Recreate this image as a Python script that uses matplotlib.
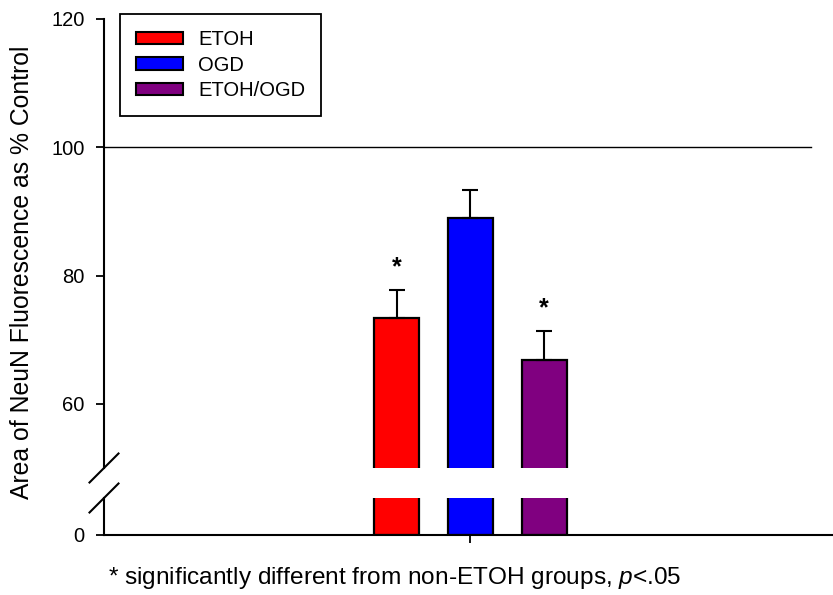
import matplotlib
matplotlib.use("Agg")
import matplotlib.pyplot as plt
from matplotlib.lines import Line2D
from matplotlib.patches import Patch

plt.rcParams['font.family'] = ['Liberation Sans', 'DejaVu Sans']
plt.rcParams['mathtext.fontset'] = 'custom'
plt.rcParams['mathtext.rm'] = 'Liberation Sans'
plt.rcParams['mathtext.it'] = 'Liberation Sans:italic'

# data
groups = ['ETOH', 'OGD', 'ETOH/OGD']
means = [73.4, 88.9, 66.8]
sems = [4.3, 4.4, 4.5]
colors = ['#ff0000', '#0000ff', '#800080']
significant = [True, False, True]
ref_level = 100
yticks_top = [60, 80, 100, 120]
yticks_bottom = [0]

W, H = 833, 595
fig = plt.figure(figsize=(W / 100, H / 100), dpi=100)

# axes positions in pixels
ax_left, ax_right = 104, 833
top_y0, top_y1 = 19, 468
bot_y0, bot_y1 = 498, 535
px_per_unit = (top_y1 - top_y0) / 70.0

ax_top = fig.add_axes([ax_left / W, 1 - top_y1 / H, (ax_right - ax_left) / W, (top_y1 - top_y0) / H])
ax_bot = fig.add_axes([ax_left / W, 1 - bot_y1 / H, (ax_right - ax_left) / W, (bot_y1 - bot_y0) / H])

x = [1, 2, 3]
xlim = (-2.97, 6.92)
bar_w = 0.61

for ax in (ax_top, ax_bot):
    ax.bar(x, means, width=bar_w, color=colors, edgecolor='black', linewidth=1.6, zorder=2)
    ax.set_xlim(*xlim)
    for s in ('top', 'right'):
        ax.spines[s].set_visible(False)
    ax.spines['left'].set_linewidth(1.5)
    ax.tick_params(axis='y', direction='out', length=6, width=1.3, labelsize=14.5, pad=8)

ax_top.errorbar(x, means, yerr=[[0, 0, 0], sems], fmt='none', ecolor='black',
                elinewidth=1.5, capsize=5.5, capthick=1.5, zorder=3)
ax_top.set_ylim(50, 120)
ax_top.set_yticks(yticks_top)
ax_top.spines['bottom'].set_visible(False)
ax_top.set_xticks([])
ax_top.axhline(ref_level, xmin=0, xmax=(811 - ax_left) / (ax_right - ax_left),
               color='black', linewidth=1, zorder=1)

# significance stars
for xi, m, e, sig in zip(x, means, sems, significant):
    if sig:
        ax_top.text(xi, m + e + 3.6, '*', ha='center', va='center', fontsize=18,
                    fontweight='bold')

ax_bot.set_ylim(0, (bot_y1 - bot_y0) / px_per_unit)
ax_bot.set_yticks(yticks_bottom)
ax_bot.spines['bottom'].set_linewidth(1.5)
ax_bot.set_xticks([2])
ax_bot.set_xticklabels([''])
ax_bot.tick_params(axis='x', direction='out', length=6, width=1.3)

# break marks
d = 14.5
for yc in (top_y1, bot_y0):
    fig.add_artist(Line2D([(ax_left - d) / W, (ax_left + d) / W],
                          [1 - (yc + d) / H, 1 - (yc - d) / H],
                          transform=fig.transFigure, color='black', linewidth=1.5))

handles = [Patch(facecolor=c, edgecolor='black', linewidth=1.5) for c in colors]
leg = ax_top.legend(handles, groups, loc='upper left', bbox_to_anchor=(120 / W, 1 - 14 / H),
                    bbox_transform=fig.transFigure, fontsize=14.5, frameon=True, fancybox=False,
                    edgecolor='black', framealpha=1, handlelength=2.33, handleheight=0.6,
                    labelspacing=0.32, borderpad=0.8, handletextpad=0.75, borderaxespad=0)
leg.get_frame().set_linewidth(1.3)

fig.text(22 / W, 1 - 272 / H, 'Area of NeuN Fluorescence as % Control', rotation=90,
         ha='center', va='center', fontsize=17.8)
fig.text(108 / W, 1 - 578 / H, '* significantly different from non-ETOH groups, $p$<.05',
         ha='left', va='center', fontsize=17.6)

fig.savefig('out.png', dpi=100)
